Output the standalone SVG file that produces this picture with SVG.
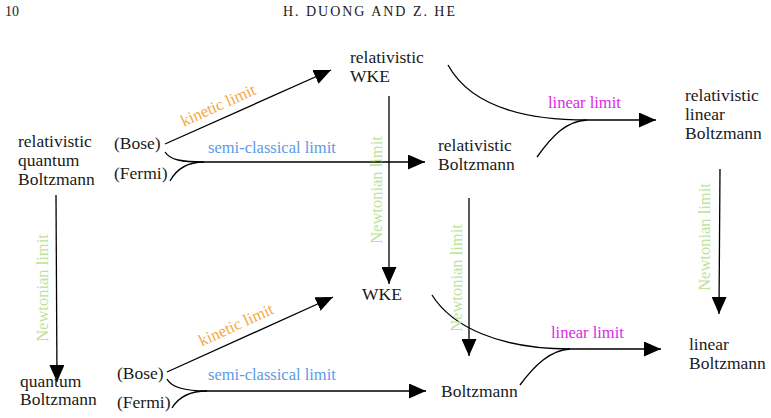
<svg xmlns="http://www.w3.org/2000/svg" width="771" height="418" viewBox="0 0 771 418" font-family="Liberation Serif, serif" font-size="17.5">
<style>
text{fill:#1a1a1a}
.hdr{font-size:14px}
.lbl{font-size:16.5px}
.kin{fill:#f5a742}
.semi{fill:#5b9be6}
.newt{fill:#bde39a}
.lin{fill:#d82ae6}
.c{fill:none;stroke:#000;stroke-width:1.3}
</style>
<defs>
<marker id="ah" markerUnits="userSpaceOnUse" markerWidth="17" markerHeight="15" refX="17" refY="7.5" orient="auto" viewBox="0 0 17 15">
<path d="M0,0 L17,7.5 L0,15 z" fill="#000"/>
</marker>
</defs>
<g id="header">
<text class="hdr" x="5" y="16">10</text>
<text class="hdr" x="369" y="16" text-anchor="middle" textLength="172" lengthAdjust="spacing">H. DUONG AND Z. HE</text>
</g>
<g id="connectors">
<path class="c" d="M165,144 L331,70" marker-end="url(#ah)"/>
<path class="c" d="M165,152 C170,160 182,162 204,162 L425,162" marker-end="url(#ah)"/>
<path class="c" d="M170,181 C176,170 186,162 204,162"/>
<path class="c" d="M389,96 L389,284" marker-end="url(#ah)"/>
<path class="c" d="M448,65 C470,105 520,120 587,120 L656,120" marker-end="url(#ah)"/>
<path class="c" d="M537,157 C552,136 566,121 587,120"/>
<path class="c" d="M469,198 L469,356" marker-end="url(#ah)"/>
<path class="c" d="M720,169 L719,314" marker-end="url(#ah)"/>
<path class="c" d="M56,195 L57,382" marker-end="url(#ah)"/>
<path class="c" d="M167,372 L333,297" marker-end="url(#ah)"/>
<path class="c" d="M167,379 C171,387 184,391 207,391 L426,391" marker-end="url(#ah)"/>
<path class="c" d="M172,408 C178,398 188,391 207,391"/>
<path class="c" d="M432,295 C452,327 500,349 570,349 L661,349" marker-end="url(#ah)"/>
<path class="c" d="M520,385 C534,366 550,350 570,349"/>
</g>
<g id="labels">
<text class="lbl kin" transform="translate(224,118.5) rotate(-24.2)" x="0" y="-9" text-anchor="middle">kinetic limit</text>
<text class="lbl semi" x="208" y="153">semi-classical limit</text>
<text class="lbl newt" transform="translate(382,190) rotate(-90)" x="0" y="0" text-anchor="middle">Newtonian  limit</text>
<text class="lbl lin" x="548" y="108">linear limit</text>
<text class="lbl newt" transform="translate(462,278) rotate(-90)" x="0" y="0" text-anchor="middle">Newtonian limit</text>
<text class="lbl newt" transform="translate(710,237) rotate(-90)" x="0" y="0" text-anchor="middle">Newtonian limit</text>
<text class="lbl newt" transform="translate(48,288) rotate(-90)" x="0" y="0" text-anchor="middle">Newtonian  limit</text>
<text class="lbl kin" transform="translate(242,338) rotate(-24.6)" x="0" y="-9" text-anchor="middle">kinetic limit</text>
<text class="lbl semi" x="208" y="380">semi-classical limit</text>
<text class="lbl lin" x="551" y="338">linear limit</text>
</g>
<g id="rel-quantum-boltzmann">
<text x="18" y="147">relativistic</text>
<text x="18" y="166">quantum</text>
<text x="18" y="185">Boltzmann</text>
</g>
<g id="rel-bose"><text x="114" y="149">(Bose)</text></g>
<g id="rel-fermi"><text x="114" y="179">(Fermi)</text></g>
<g id="rel-wke">
<text x="350" y="63">relativistic</text>
<text x="350" y="82">WKE</text>
</g>
<g id="rel-boltzmann">
<text x="438" y="151">relativistic</text>
<text x="438" y="170">Boltzmann</text>
</g>
<g id="rel-linear-boltzmann">
<text x="685" y="101">relativistic</text>
<text x="685" y="120">linear</text>
<text x="685" y="139">Boltzmann</text>
</g>
<g id="wke"><text x="362" y="300">WKE</text></g>
<g id="quantum-boltzmann">
<text x="20" y="387">quantum</text>
<text x="20" y="405">Boltzmann</text>
</g>
<g id="bose"><text x="117" y="379">(Bose)</text></g>
<g id="fermi"><text x="117" y="408">(Fermi)</text></g>
<g id="boltzmann"><text x="441" y="397">Boltzmann</text></g>
<g id="linear-boltzmann">
<text x="689" y="350">linear</text>
<text x="689" y="369">Boltzmann</text>
</g>
</svg>
